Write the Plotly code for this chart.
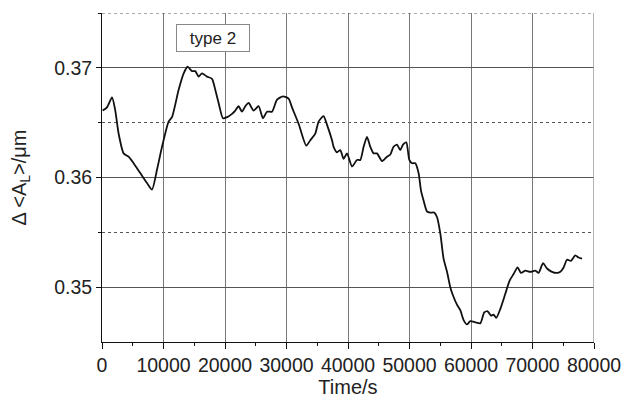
import plotly.graph_objects as go

time_s = [100, 810, 1630, 2160, 2700, 3510, 4330, 5140, 6230, 7320, 8130, 8940, 9760,
          10830, 11380, 12460, 13280, 13920, 14630, 15170, 15710, 16260, 17070, 17890,
          18420, 18960, 19670, 20330, 21140, 21670, 22210, 22760, 23300, 23840, 24650,
          25460, 26180, 26830, 27640, 28460, 29430, 30340, 30890, 31970, 33220, 33870,
          34680, 35220, 36030, 36590, 37400, 37660, 38210, 38750, 39290, 39840, 40650,
          41460, 42000, 42540, 43090, 43630, 44160, 44720, 45530, 46340, 46880, 47410,
          47970, 48500, 48940, 49480, 49970, 50410, 50940, 51480, 51870, 52290, 52850,
          53380, 54030, 54470, 55010, 55540, 56100, 56630, 57170, 57720, 58260, 58800,
          59350, 59890, 60700, 61510, 62160, 62700, 63250, 63670, 64110, 64760, 65580,
          66280, 66930, 67580, 68130, 68830, 69640, 70460, 71000, 71710, 72360, 73170,
          73980, 74520, 75060, 75610, 76260, 76960, 77500, 78050]
delta_al = [0.3661, 0.3664, 0.3673, 0.3661, 0.3640, 0.3622, 0.3619, 0.3613, 0.3604, 0.3595,
            0.3589, 0.3607, 0.3628, 0.3651, 0.3655, 0.3680, 0.3695, 0.3701, 0.3697, 0.3697,
            0.3692, 0.3695, 0.3692, 0.3690, 0.3680, 0.3668, 0.3654, 0.3655, 0.3658, 0.3661,
            0.3665, 0.3660, 0.3665, 0.3668, 0.3661, 0.3665, 0.3654, 0.3660, 0.3660, 0.3671,
            0.3674, 0.3672, 0.3664, 0.3649, 0.3629, 0.3634, 0.3640, 0.3651, 0.3656, 0.3648,
            0.3634, 0.3628, 0.3623, 0.3625, 0.3617, 0.3622, 0.3610, 0.3616, 0.3616, 0.3628,
            0.3637, 0.3628, 0.3622, 0.3622, 0.3615, 0.3619, 0.3621, 0.3628, 0.3630, 0.3625,
            0.3630, 0.3632, 0.3616, 0.3613, 0.3613, 0.3604, 0.3588, 0.3579, 0.3569, 0.3568,
            0.3568, 0.3564, 0.3549, 0.3526, 0.3514, 0.3500, 0.3491, 0.3484, 0.3479, 0.3470,
            0.3466, 0.3469, 0.3468, 0.3467, 0.3477, 0.3478, 0.3474, 0.3475, 0.3472, 0.3480,
            0.3494, 0.3506, 0.3512, 0.3518, 0.3513, 0.3515, 0.3514, 0.3515, 0.3513, 0.3522,
            0.3517, 0.3514, 0.3513, 0.3514, 0.3518, 0.3525, 0.3524, 0.3529, 0.3527, 0.3526]

x_ticks = [0, 10000, 20000, 30000, 40000, 50000, 60000, 70000, 80000]
y_ticks = [0.35, 0.36, 0.37]
y_tick_labels = ["0.35", "0.36", "0.37"]
y_minor = [0.355, 0.365, 0.375]
label_text = "type 2"

FONT = "Liberation Sans, Arial, sans-serif"

fig = go.Figure()
fig.add_trace(go.Scatter(x=time_s, y=delta_al, mode="lines",
                         line=dict(color="#111111", width=1.8, shape="spline", smoothing=0.6),
                         showlegend=False, hoverinfo="skip"))

fig.update_layout(
    width=627, height=406,
    margin=dict(l=102, r=33, t=13, b=64, autoexpand=False),
    paper_bgcolor="white", plot_bgcolor="white",
    font=dict(family=FONT, size=19.5, color="#222222"),
    xaxis=dict(range=[0, 80000], tickvals=x_ticks, ticktext=[str(v) for v in x_ticks],
               automargin=False,
               showgrid=True, gridcolor="#777777", gridwidth=1,
               showline=True, linecolor="#111111", linewidth=1,
               ticks="outside", ticklen=6, tickcolor="#111111",
               minor=dict(dtick=5000, ticks="outside", ticklen=3, tickcolor="#111111", showgrid=False),
               zeroline=False, mirror=False,
               title=dict(text="Time/s", font=dict(size=20), standoff=2)),
    yaxis=dict(range=[0.345, 0.375], tickvals=y_ticks, ticktext=y_tick_labels,
               automargin=False,
               showgrid=True, gridcolor="#555555", gridwidth=1,
               showline=True, linecolor="#111111", linewidth=1,
               ticks="outside", ticklen=5, tickcolor="#111111",
               minor=dict(tickvals=y_minor, showgrid=True, griddash="dot",
                          gridcolor="#555555", gridwidth=1, ticks="outside", ticklen=3,
                          tickcolor="#111111"),
               zeroline=False,
               title=dict(text="Δ &lt;A<sub>L</sub>&gt;/μm", font=dict(size=20), standoff=22)),
)

# dotted top line at the range edge
fig.add_shape(type="line", xref="paper", yref="y", x0=0, x1=1, y0=y_minor[-1], y1=y_minor[-1],
              line=dict(color="#555555", width=1, dash="dot"))
# right edge line at 80000 (grey, like grid)
fig.add_shape(type="line", xref="x", yref="paper", x0=x_ticks[-1], x1=x_ticks[-1], y0=0, y1=1,
              line=dict(color="#999999", width=1.5))

fig.add_annotation(x=18100, y=0.3727, xref="x", yref="y", text=label_text, showarrow=False,
                   font=dict(family=FONT, size=17, color="#222222"),
                   width=70, height=24, align="center",
                   bordercolor="#888888", borderwidth=1, borderpad=1, bgcolor="white")

fig.write_html("out.html")
